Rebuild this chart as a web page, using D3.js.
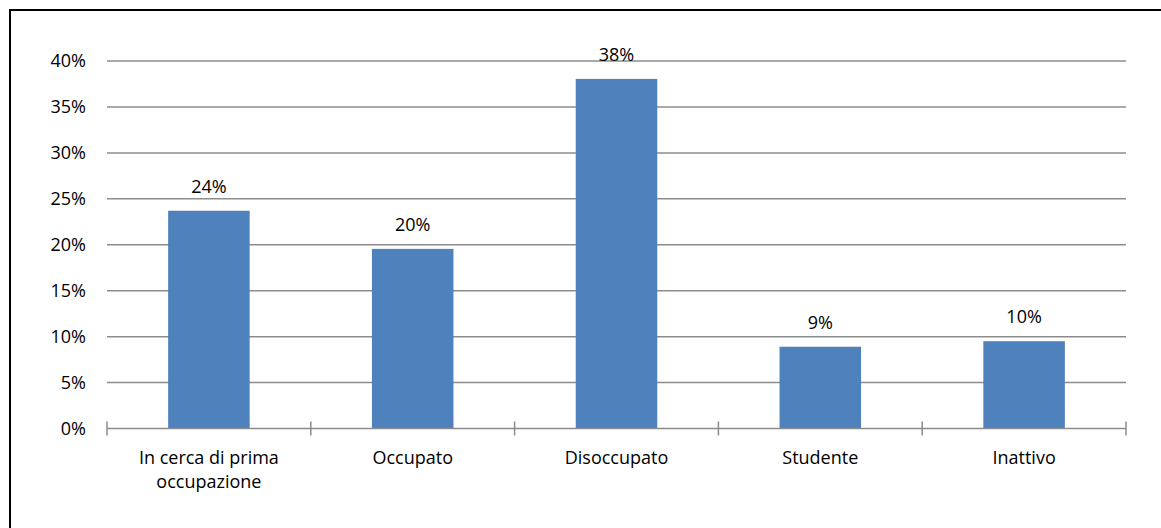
<!DOCTYPE html>
<html>
<head>
<meta charset="utf-8">
<script src="https://cdn.jsdelivr.net/npm/d3@7"></script>
<style>
  html, body { margin: 0; padding: 0; background: #fff; }
  svg { display: block; font-family: "Open Sans", Lato, "Liberation Sans", sans-serif; }
</style>
</head>
<body>
<svg id="chart" width="1161" height="528"></svg>
<script>
// Condizione professionale (quote percentuali)
const categories = [["In cerca di prima", "occupazione"], ["Occupato"], ["Disoccupato"], ["Studente"], ["Inattivo"]];
const values = [23.7, 19.55, 38.05, 8.9, 9.5];
const valueLabels = ["24%", "20%", "38%", "9%", "10%"];
const yTicks = [0, 5, 10, 15, 20, 25, 30, 35, 40];

const svg = d3.select("#chart");
const W = 1161, H = 528;
const margin = { left: 107, right: 35, top: 61, bottom: 99.5 };
const fontSize = 18;

// Outer frame (its right and bottom sides fall outside the canvas)
svg.append("rect")
  .attr("x", 10).attr("y", 10)
  .attr("width", W + 20).attr("height", H + 20)
  .attr("fill", "none").attr("stroke", "#000").attr("stroke-width", 2);

const x = d3.scaleBand()
  .domain(d3.range(categories.length))
  .range([margin.left, W - margin.right])
  .paddingInner(0.6).paddingOuter(0.3);

const y = d3.scaleLinear()
  .domain([0, 40])
  .range([H - margin.bottom, margin.top]);

const gridColor = "#8c8c8c";

// Horizontal gridlines
svg.append("g")
  .selectAll("line")
  .data(yTicks.filter(t => t > 0))
  .join("line")
  .attr("x1", margin.left).attr("x2", W - margin.right)
  .attr("y1", d => y(d)).attr("y2", d => y(d))
  .attr("stroke", gridColor).attr("stroke-width", 1.5);

// Y axis labels
const yAxis = d3.axisLeft(y).tickValues(yTicks).tickFormat(d => d + "%").tickSize(0).tickPadding(21);
const gy = svg.append("g").attr("transform", `translate(${margin.left},0)`).call(yAxis);
gy.select(".domain").remove();
gy.selectAll("text").attr("font-size", fontSize).attr("fill", "#000")
  .attr("font-family", "'Open Sans', Lato, sans-serif");

// Bars
svg.append("g")
  .selectAll("rect")
  .data(values)
  .join("rect")
  .attr("x", (d, i) => x(i))
  .attr("width", x.bandwidth())
  .attr("y", d => y(d))
  .attr("height", d => y(0) - y(d))
  .attr("fill", "#4f81bd");

// X axis baseline with ticks at category boundaries
const step = x.step();
const x0 = margin.left, x1 = W - margin.right;
const baseY = y(0);
svg.append("line")
  .attr("x1", x0).attr("x2", x1).attr("y1", baseY).attr("y2", baseY)
  .attr("stroke", gridColor).attr("stroke-width", 1.5);
svg.append("g")
  .selectAll("line")
  .data(d3.range(categories.length + 1))
  .join("line")
  .attr("x1", i => x0 + i * step).attr("x2", i => x0 + i * step)
  .attr("y1", baseY - 7).attr("y2", baseY + 7)
  .attr("stroke", gridColor).attr("stroke-width", 1.5);

// Value labels
svg.append("g")
  .selectAll("text")
  .data(values)
  .join("text")
  .attr("x", (d, i) => x(i) + x.bandwidth() / 2)
  .attr("y", d => y(d) - 18)
  .attr("text-anchor", "middle")
  .attr("font-size", fontSize)
  .attr("fill", "#000")
  .text((d, i) => valueLabels[i]);

// Category labels
const cat = svg.append("g")
  .selectAll("text")
  .data(categories)
  .join("text")
  .attr("text-anchor", "middle")
  .attr("font-size", fontSize)
  .attr("fill", "#000")
  .attr("x", (d, i) => x(i) + x.bandwidth() / 2)
  .attr("y", baseY + 35);
cat.selectAll("tspan")
  .data(d => d)
  .join("tspan")
  .attr("x", function() { return this.parentNode.getAttribute("x"); })
  .attr("dy", (d, j) => j === 0 ? 0 : 24.5)
  .text(d => d);
</script>
</body>
</html>
